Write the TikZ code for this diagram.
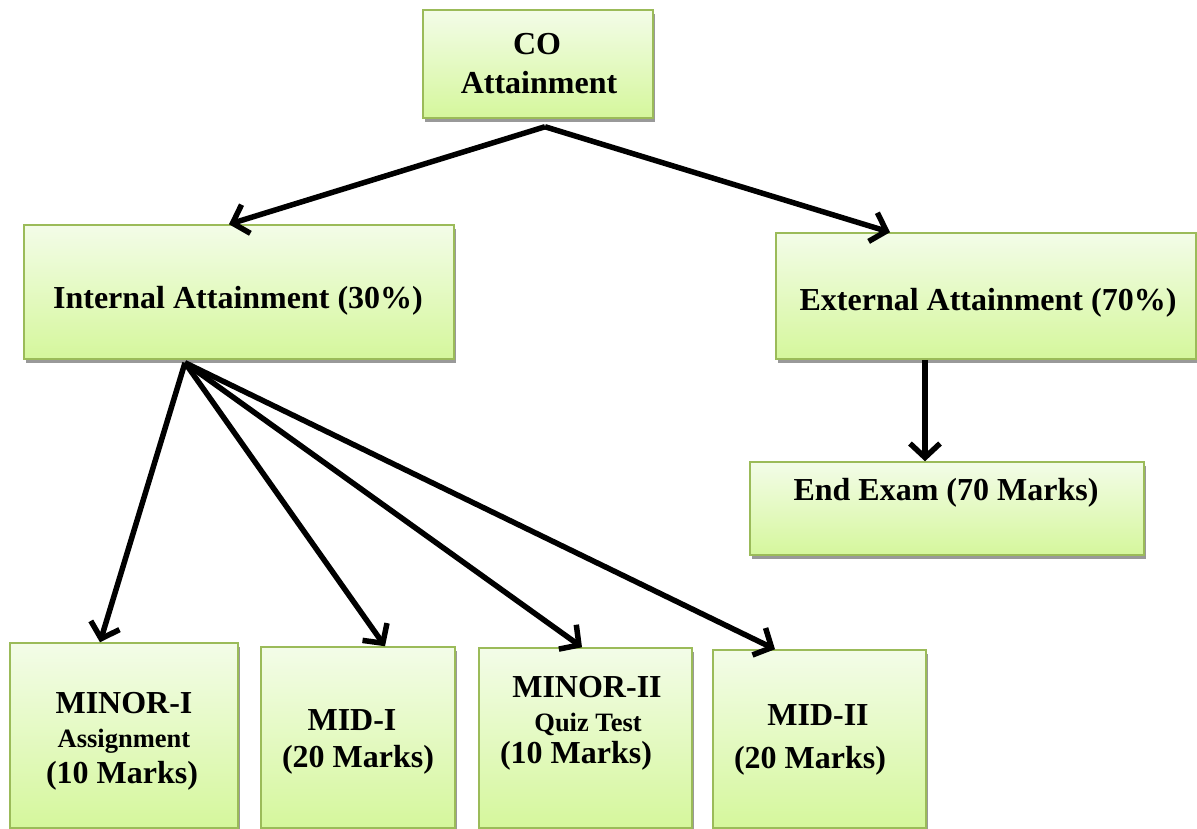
\documentclass[tikz,border=0pt]{standalone}
\usepackage{fontspec}
\setmainfont{Liberation Serif}
\usetikzlibrary{arrows.meta,shadows,calc}
\definecolor{bord}{RGB}{155,187,89}
\definecolor{topc}{RGB}{243,252,232}
\definecolor{botc}{RGB}{213,247,156}
\tikzset{
 box/.style={draw=bord, line width=1.5pt, top color=topc, bottom color=botc, rectangle, inner sep=0pt,
   drop shadow={shadow xshift=2pt, shadow yshift=-4pt, fill=black!40, opacity=1}},
 big/.style={font=\fontsize{32}{36}\selectfont\bfseries, inner sep=0pt, anchor=base},
 small/.style={font=\fontsize{26.5}{30}\selectfont\bfseries, inner sep=0pt, anchor=base},
 arr/.style={line width=5.5pt, -{Straight Barb[length=14pt,width=30pt]}},
}
\begin{document}
\begin{tikzpicture}[x=1pt,y=-1pt]
\useasboundingbox (0,0) rectangle (1197,829);
% boxes
\node[box, minimum width=230pt, minimum height=108pt] (co) at (538,64) {};
\node[box, minimum width=430pt, minimum height=134pt] (int) at (239,292) {};
\node[box, minimum width=420pt, minimum height=126pt] (ext) at (986,296) {};
\node[box, minimum width=394pt, minimum height=93pt] (end) at (947,508.5) {};
\node[box, minimum width=228pt, minimum height=185pt] (m1) at (124,735.5) {};
\node[box, minimum width=194pt, minimum height=181pt] (mid1) at (358,737.5) {};
\node[box, minimum width=213pt, minimum height=180pt] (m2) at (585.5,738) {};
\node[box, minimum width=213pt, minimum height=178pt] (mid2) at (819.5,739) {};
% texts
\node[big] (coA) at (537,55) {CO};
\node[big] (coB) at (539,94) {Attainment};
\node[big] (intT) at (238,308) {Internal Attainment (30\%)};
\node[big] (extT) at (988,310) {External Attainment (70\%)};
\node[big] (endT) at (946,500) {End Exam (70 Marks)};
\node[big] (m1a) at (124,713) {MINOR-I};
\node[small] (m1b) at (124,747) {Assignment};
\node[big] (m1c) at (122,783) {(10 Marks)};
\node[big] (mid1a) at (352,730) {MID-I};
\node[big] (mid1b) at (358,767) {(20 Marks)};
\node[big] (m2a) at (587,697) {MINOR-II};
\node[small] (m2b) at (588,731) {Quiz Test};
\node[big] (m2c) at (576,763) {(10 Marks)};
\node[big] (mid2a) at (818,725) {MID-II};
\node[big] (mid2b) at (810,768) {(20 Marks)};
% connector points
\coordinate (coS) at ([yshift=-8pt]co.south -| 545,0);
\coordinate (intS) at ([yshift=-3pt]int.south -| 185,0);
\coordinate (extS) at (ext.south -| 925,0);
% arrows
\draw[arr] (coS) -- (int.north -| 229,0);
\draw[arr] (coS) -- (ext.north -| 890,0);
\draw[arr] (extS) -- (end.north -| 925,0);
\draw[arr] (intS) -- (m1.north -| 100,0);
\draw[arr] (intS) -- (mid1.north -| 385,0);
\draw[arr] (intS) -- (m2.north -| 582,0);
\draw[arr] (intS) -- (mid2.north -| 775,0);
\end{tikzpicture}
\end{document}
